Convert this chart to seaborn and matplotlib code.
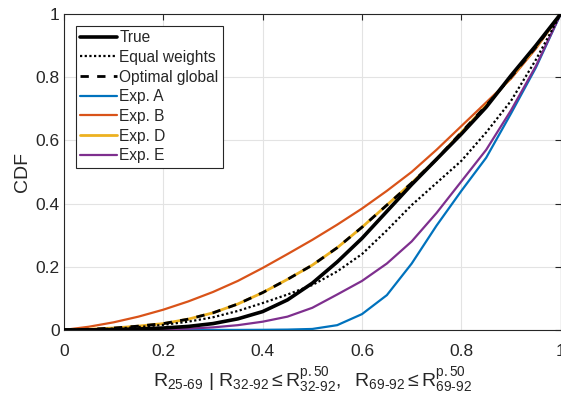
import numpy as np
import pandas as pd
import matplotlib
matplotlib.use("Agg")
import matplotlib.pyplot as plt
import seaborn as sns

# ---- data ----
x_vals = [0.0, 0.05, 0.1, 0.15, 0.2, 0.25, 0.3, 0.35, 0.4, 0.45, 0.5,
          0.55, 0.6, 0.65, 0.7, 0.75, 0.8, 0.85, 0.9, 0.95, 1.0]

true_cdf = [0.0, 0.0002, 0.001, 0.003, 0.006, 0.011, 0.02, 0.035, 0.058, 0.095, 0.148,
            0.215, 0.29, 0.375, 0.46, 0.54, 0.62, 0.705, 0.805, 0.9, 1.0]
equal_w = [0.0, 0.001, 0.004, 0.009, 0.016, 0.026, 0.04, 0.06, 0.085, 0.112, 0.142,
           0.185, 0.24, 0.315, 0.395, 0.465, 0.535, 0.625, 0.725, 0.855, 1.0]
optimal = [0.0, 0.002, 0.006, 0.012, 0.02, 0.034, 0.054, 0.082, 0.118, 0.16, 0.205,
           0.26, 0.325, 0.395, 0.465, 0.54, 0.625, 0.71, 0.8, 0.895, 1.0]
exp_a = [0.0, 0.0, 0.0, 0.0, 0.0, 0.0, 0.0, 0.0, 0.0003, 0.001, 0.003,
         0.015, 0.05, 0.11, 0.21, 0.33, 0.44, 0.545, 0.685, 0.83, 1.0]
exp_b = [0.0, 0.01, 0.024, 0.042, 0.064, 0.09, 0.12, 0.155, 0.196, 0.24, 0.285,
         0.333, 0.384, 0.44, 0.5, 0.57, 0.645, 0.72, 0.795, 0.89, 1.0]
exp_d = list(optimal)
exp_e = [0.0, 0.0, 0.0005, 0.001, 0.002, 0.004, 0.008, 0.015, 0.026, 0.042, 0.07,
         0.112, 0.155, 0.21, 0.28, 0.37, 0.47, 0.57, 0.695, 0.835, 1.0]

labels = ["True", "Equal weights", "Optimal global", "Exp. A", "Exp. B", "Exp. D", "Exp. E"]
x_ticks = [0, 0.2, 0.4, 0.6, 0.8, 1]
x_tick_labels = ["0", "0.2", "0.4", "0.6", "0.8", "1"]
y_ticks = [0, 0.2, 0.4, 0.6, 0.8, 1]
y_tick_labels = ["0", "0.2", "0.4", "0.6", "0.8", "1"]

sns.set_theme(style="white")
plt.rcParams["font.family"] = ["Liberation Sans", "DejaVu Sans"]
plt.rcParams["mathtext.fontset"] = "custom"
plt.rcParams["mathtext.rm"] = "Liberation Sans"
plt.rcParams["mathtext.it"] = "Liberation Sans"
plt.rcParams["mathtext.bf"] = "Liberation Sans:bold"

fig = plt.figure(figsize=(5.61, 3.97), dpi=100)
ax = fig.add_axes([0.114, 0.169, 0.8855, 0.796])

series = [
    (true_cdf, dict(color="black", linestyle="-", linewidth=2.6), 5),
    (equal_w, dict(color="black", linestyle=(0, (1, 1.1)), linewidth=1.6), 5),
    (optimal, dict(color="black", linestyle=(0, (3.0, 3.0)), linewidth=2.0), 6),
    (exp_a, dict(color="#0072BD", linestyle="-", linewidth=1.6), 3),
    (exp_b, dict(color="#D95319", linestyle="-", linewidth=1.6), 3),
    (exp_d, dict(color="#EDB120", linestyle="-", linewidth=2.0), 4),
    (exp_e, dict(color="#7E2F8E", linestyle="-", linewidth=1.6), 3),
]

for (vals, style, z), lab in zip(series, labels):
    df = pd.DataFrame({"x": x_vals, "y": vals})
    sns.lineplot(data=df, x="x", y="y", ax=ax, label=lab, zorder=z,
                 estimator=None, sort=False, **style)

ax.set_xlim(0, 1)
ax.set_ylim(0, 1)
ax.set_xticks(x_ticks)
ax.set_xticklabels(x_tick_labels)
ax.set_yticks(y_ticks)
ax.set_yticklabels(y_tick_labels)
ax.grid(True, color="#e3e3e3", linewidth=0.8)
ax.set_axisbelow(True)

for s in ax.spines.values():
    s.set_color("#262626")
    s.set_linewidth(0.8)
ax.tick_params(axis="both", which="both", direction="in", length=4, width=0.8,
               colors="#262626", labelsize=12.5, top=True, right=True,
               labelcolor="#262626")
ax.tick_params(axis="x", pad=10)
ax.tick_params(axis="y", pad=3)

ax.set_ylabel("CDF", fontsize=14, color="#262626", labelpad=3)
ax.set_xlabel(r"$\mathregular{R_{25\text{-}69}\ |\ R_{32\text{-}92} \leq R^{p.50}_{32\text{-}92},\ \ R_{69\text{-}92}\leq R^{p.50}_{69\text{-}92}}$",
              fontsize=14, color="#262626", labelpad=5)

leg = ax.legend(loc="upper left", bbox_to_anchor=(0.0, 1.0), borderaxespad=0.75,
                fontsize=11.2, frameon=True, fancybox=False, framealpha=1,
                edgecolor="#262626", handlelength=2.35, handletextpad=0.15,
                labelspacing=0.3, borderpad=0.3)
leg.get_frame().set_linewidth(0.8)

fig.savefig("out.png", dpi=100)
